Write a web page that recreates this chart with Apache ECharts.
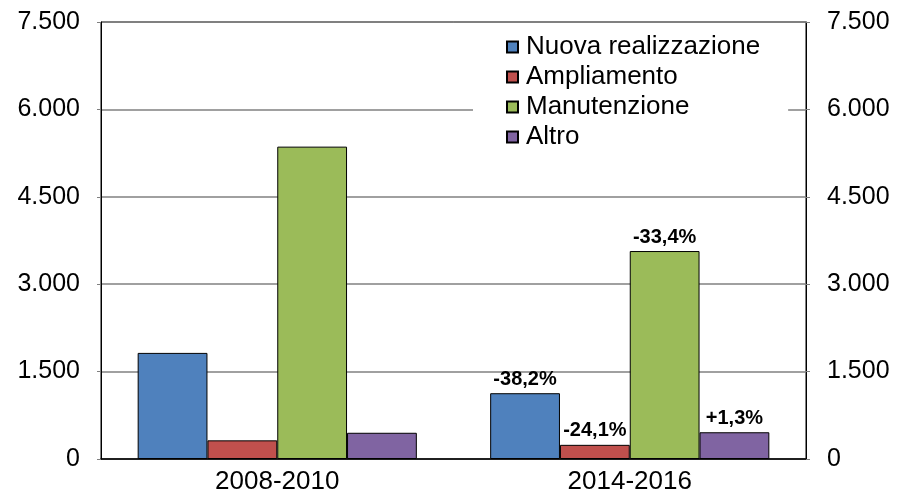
<!DOCTYPE html>
<html>
<head>
<meta charset="utf-8">
<script src="https://cdn.jsdelivr.net/npm/echarts@6/dist/echarts.min.js"></script>
<style>
  html, body { margin: 0; padding: 0; background: #fff; }
  #main { width: 901px; height: 495px; }
</style>
</head>
<body>
<div id="main"></div>
<script>
// DATA ------------------------------------------------------------------
var periods = ['2008-2010', '2014-2016'];
var nuova = [1821, 1129];
var ampliamento = [320, 243];
var manutenzione = [5361, 3569];
var altro = [450, 459];
var variazioni = {
    nuova: ['', '-38,2%'],
    ampliamento: ['', '-24,1%'],
    manutenzione: ['', '-33,4%'],
    altro: ['', '+1,3%']
};
var yTicks = [0, 1500, 3000, 4500, 6000, 7500];

var FONT = 'Liberation Sans, Arial, sans-serif';

function fmtThousands(v) {
    return String(v).replace(/\B(?=(\d{3})+(?!\d))/g, '.');
}

function makeSeries(name, values, labels, color) {
    return {
        name: name,
        type: 'bar',
        barGap: 0,
        barCategoryGap: '20.8%',
        yAxisIndex: 0,
        itemStyle: { color: color, borderColor: '#000', borderWidth: 1 },
        label: {
            show: true,
            position: 'top',
            distance: 4,
            fontFamily: FONT,
            fontWeight: 'bold',
            fontSize: 20,
            color: '#000',
            formatter: function (p) { return labels[p.dataIndex]; }
        },
        data: values
    };
}

var chart = echarts.init(document.getElementById('main'));

var axisY = function (pos, withSplit) {
    return {
        type: 'value',
        position: pos,
        min: yTicks[0],
        max: yTicks[yTicks.length - 1],
        interval: 1500,
        axisLine: { show: true, lineStyle: { color: '#000', width: 1 } },
        axisTick: { show: true, length: 4, lineStyle: { color: '#808080' } },
        axisLabel: {
            fontFamily: FONT, fontSize: 25, color: '#000', margin: 21,
            formatter: fmtThousands
        },
        splitLine: { show: withSplit, lineStyle: { color: '#808080', width: 1.5 } }
    };
};

var option = {
    animation: false,
    backgroundColor: '#fff',
    grid: {
        left: 101, right: 95, top: 22, bottom: 35,
        show: true, borderColor: '#000', borderWidth: 1
    },
    legend: {
        orient: 'vertical',
        left: 473,
        top: 26,
        backgroundColor: '#fff',
        padding: [8, 28, 8, 33],
        itemWidth: 11,
        itemHeight: 11,
        itemGap: 4,
        icon: 'rect',
        textStyle: { fontFamily: FONT, fontSize: 26, color: '#000', lineHeight: 26, padding: [0, 0, 0, 3] },
        data: ['Nuova realizzazione', 'Ampliamento', 'Manutenzione', 'Altro']
    },
    xAxis: {
        type: 'category',
        data: periods,
        axisLine: { show: true, lineStyle: { color: '#000', width: 1.5 } },
        axisTick: { show: false },
        axisLabel: { fontFamily: FONT, fontSize: 26, color: '#000', margin: 10 }
    },
    yAxis: [axisY('left', true), axisY('right', false)],
    series: [
        makeSeries('Nuova realizzazione', nuova, variazioni.nuova, '#4F81BD'),
        makeSeries('Ampliamento', ampliamento, variazioni.ampliamento, '#C0504D'),
        makeSeries('Manutenzione', manutenzione, variazioni.manutenzione, '#9BBB59'),
        makeSeries('Altro', altro, variazioni.altro, '#8064A2')
    ]
};

chart.setOption(option);
</script>
</body>
</html>
